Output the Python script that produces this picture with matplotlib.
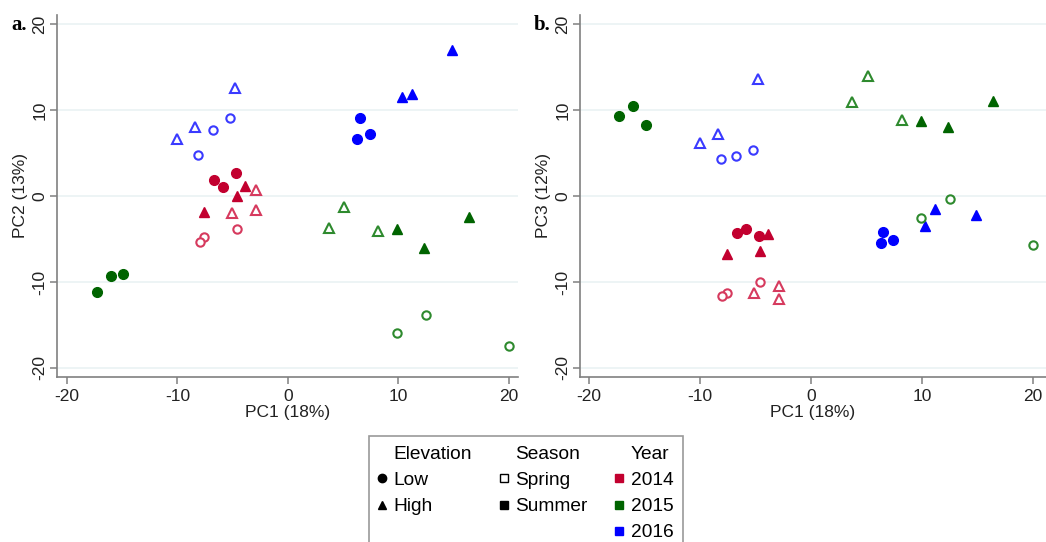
import matplotlib
matplotlib.use('Agg')
import matplotlib.pyplot as plt
from matplotlib.lines import Line2D
import numpy as np

# one entry per sample: year, season, elevation, and the three PC scores
years = ['2016'] * 12 + ['2014'] * 12 + ['2015'] * 12
seasons = (['Summer'] * 6 + ['Spring'] * 6) * 3
elevations = (['High'] * 3 + ['Low'] * 3 + ['High'] * 3 + ['Low'] * 3) * 3

pc1 = [14.9, 10.3, 11.2, 6.5, 6.3, 7.4, -4.8, -8.4, -10.0, -5.2, -6.8, -8.1,
       -3.9, -4.6, -7.6, -6.7, -5.9, -4.7, -2.9, -2.9, -5.1, -4.6, -7.6, -8.0,
       9.9, 12.3, 16.4, -17.3, -16.0, -14.9, 5.1, 3.7, 8.2, 9.9, 12.5, 20.0]
pc2 = [17.0, 11.5, 11.9, 9.1, 6.6, 7.2, 12.5, 8.0, 6.6, 9.1, 7.7, 4.8,
       1.2, 0.0, -1.9, 1.9, 1.0, 2.7, 0.7, -1.6, -2.0, -3.8, -4.8, -5.4,
       -3.8, -6.0, -2.5, -11.2, -9.3, -9.1, -1.3, -3.7, -4.1, -15.9, -13.8, -17.5]
pc3 = [-2.2, -3.5, -1.5, -4.2, -5.5, -5.1, 13.6, 7.2, 6.2, 5.3, 4.6, 4.3,
       -4.4, -6.4, -6.8, -4.3, -3.8, -4.7, -10.5, -12.0, -11.3, -10.0, -11.3, -11.6,
       8.7, 8.0, 11.0, 9.3, 10.5, 8.3, 13.9, 10.9, 8.8, -2.6, -0.3, -5.7]

year_colors = {'2014': '#C2002F', '2015': '#006400', '2016': '#0000FF'}
spring_colors = {'2014': '#D63A5E', '2015': '#2E8A2E', '2016': '#3A3AFF'}
elev_markers = {'Low': 'o', 'High': '^'}

plt.rcParams['font.family'] = ['Liberation Sans', 'DejaVu Sans']
plt.rcParams['axes.unicode_minus'] = False

fig = plt.figure(figsize=(10.46, 5.42), dpi=100)
ax1 = fig.add_axes([0.0545, 0.3044, 0.4405, 0.668])
ax2 = fig.add_axes([0.5545, 0.3044, 0.4455, 0.668])


def draw_panel(ax, yvals, ylabel, xlim, tag):
    for i in range(len(pc1)):
        m = elev_markers[elevations[i]]
        ms = 7.5 if m == '^' else 7
        if seasons[i] == 'Summer':
            ax.plot(pc1[i], yvals[i], marker=m, ms=ms, color=year_colors[years[i]],
                    mec=year_colors[years[i]], ls='none', zorder=3)
        else:
            ax.plot(pc1[i], yvals[i], marker=m, ms=ms - 1, mfc='white',
                    mec=spring_colors[years[i]], mew=1.5, ls='none', zorder=3)
    ax.set_xlim(xlim)
    ax.set_ylim(-21.05, 21.05)
    ax.set_xticks([-20, -10, 0, 10, 20])
    ax.set_yticks([-20, -10, 0, 10, 20])
    ax.set_yticklabels(['-20', '-10', '0', '10', '20'], rotation=90, va='center')
    ax.grid(axis='y', color='#EAF2F3', lw=1.2)
    ax.set_axisbelow(True)
    for s in ['top', 'right']:
        ax.spines[s].set_visible(False)
    for s in ['left', 'bottom']:
        ax.spines[s].set_color('#808080')
        ax.spines[s].set_linewidth(1.2)
    ax.tick_params(colors='#808080', labelcolor='#222222', labelsize=12.5,
                   length=5, width=1.1, direction='out')
    ax.tick_params(axis='y', pad=2)
    ax.set_xlabel('PC1 (18%)', fontsize=12.5, color='#222222', labelpad=1)
    ax.set_ylabel(ylabel, fontsize=12.5, color='#222222', labelpad=3)
    ax.text(-0.1, 0.973, tag, transform=ax.transAxes, fontsize=15,
            fontweight='bold', family='Liberation Serif', va='center', ha='left')


draw_panel(ax1, pc2, 'PC2 (13%)', (-20.9, 20.81), 'a.')
draw_panel(ax2, pc3, 'PC3 (12%)', (-20.81, 21.17), 'b.')

# legend: three columns with header rows
blank = Line2D([], [], ls='none', marker=None)


def mk(marker, mfc, mec):
    return Line2D([], [], ls='none', marker=marker, ms=6, mfc=mfc, mec=mec, mew=1)


handles = [blank, mk('o', 'black', 'black'), mk('^', 'black', 'black'), blank,
           blank, mk('s', 'white', 'black'), mk('s', 'black', 'black'), blank,
           blank, mk('s', year_colors['2014'], year_colors['2014']),
           mk('s', year_colors['2015'], year_colors['2015']),
           mk('s', year_colors['2016'], year_colors['2016'])]
labels = ['Elevation', 'Low', 'High', ' ', 'Season', 'Spring', 'Summer', ' ',
          'Year', '2014', '2015', '2016']
leg = fig.legend(handles, labels, ncol=3, loc='upper center',
                 bbox_to_anchor=(0.503, 0.196), fontsize=13.8, frameon=True,
                 fancybox=False, edgecolor='#808080', handlelength=0.4,
                 handletextpad=0.4, columnspacing=1.45, labelspacing=0.46,
                 borderpad=0.5, borderaxespad=0)
leg.get_frame().set_linewidth(1.2)

fig.savefig('out.png', dpi=100)
